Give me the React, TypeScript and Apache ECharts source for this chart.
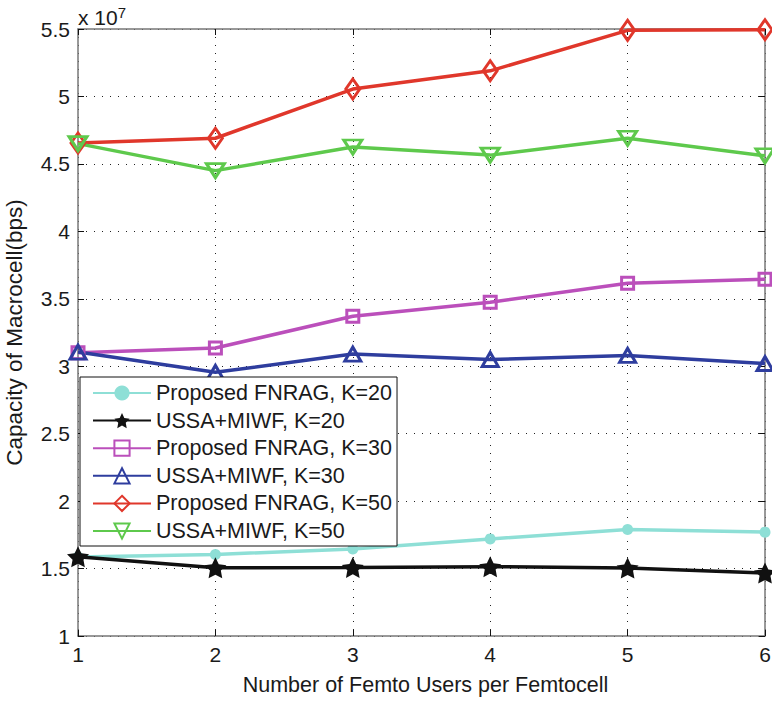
import React, { useEffect, useRef } from "react";
import * as echarts from "echarts";

const xValues = [1, 2, 3, 4, 5, 6];
const proposedK20 = [1.585, 1.605, 1.645, 1.72, 1.79, 1.77];
const ussaK20 = [1.587, 1.506, 1.508, 1.514, 1.504, 1.467];
const proposedK30 = [3.1, 3.135, 3.37, 3.475, 3.615, 3.645];
const ussaK30 = [3.105, 2.955, 3.09, 3.05, 3.08, 3.02];
const proposedK50 = [4.655, 4.69, 5.055, 5.19, 5.49, 5.495];
const ussaK50 = [4.65, 4.45, 4.625, 4.565, 4.69, 4.56];

const seriesNames = [
  "Proposed FNRAG, K=20",
  "USSA+MIWF, K=20",
  "Proposed FNRAG, K=30",
  "USSA+MIWF, K=30",
  "Proposed FNRAG, K=50",
  "USSA+MIWF, K=50",
];

const FONT = "'Liberation Sans', Arial, Helvetica, sans-serif";
const STAR =
  "path://M0,-10 L2.9,-4 L9.5,-3.1 L4.7,1.5 L5.9,8.1 L0,5 L-5.9,8.1 L-4.7,1.5 L-9.5,-3.1 L-2.9,-4 Z";

export default function App() {
  const ref = useRef<HTMLDivElement>(null);

  useEffect(() => {
    if (!ref.current) return;
    const chart = echarts.init(ref.current, undefined, { renderer: "svg" });

    const mk = (
      name: string,
      values: number[],
      color: string,
      symbol: string,
      symbolSize: any,
      hollow: boolean,
      rotate = 0
    ) => ({
      name,
      type: "line",
      data: xValues.map((x, i) => [x, values[i]]),
      symbol,
      symbolSize,
      symbolRotate: rotate,
      symbolKeepAspect: true,
      showAllSymbol: true,
      lineStyle: { color, width: 3.5 },
      itemStyle: hollow
        ? { color: "rgba(255,255,255,0)", borderColor: color, borderWidth: 3 }
        : { color, borderColor: color, borderWidth: 0 },
      emphasis: { disabled: true },
      z: 3,
    });

    const series = [
      mk(seriesNames[0], proposedK20, "#8edfd6", "circle", 11, false),
      mk(seriesNames[1], ussaK20, "#111111", STAR, 22, false),
      mk(seriesNames[2], proposedK30, "#bb4fbb", "rect", 12, true),
      mk(seriesNames[3], ussaK30, "#2e3d9e", "triangle", [16, 14], true),
      mk(seriesNames[4], proposedK50, "#e0372b", "diamond", [14, 20], true),
      mk(seriesNames[5], ussaK50, "#5ec94c", "triangle", [18, 14], true, 180),
    ];

    const dotted = { color: "#222", width: 1, type: [1, 7] as any };

    chart.setOption({
      animation: false,
      backgroundColor: "#ffffff",
      textStyle: { fontFamily: FONT },
      grid: {
        left: 78,
        right: 7,
        top: 29,
        bottom: 65,
        containLabel: false,
        outerBoundsMode: "none",
      } as any,
      xAxis: [
        {
          type: "value",
          min: 1,
          max: 6,
          interval: 1,
          position: "bottom",
          name: "Number of Femto Users per Femtocell",
          nameLocation: "middle",
          nameGap: 38,
          nameTextStyle: { fontSize: 21.5, color: "#1a1a1a", fontFamily: FONT, padding: [0, 0, 0, 8] },
          axisLine: { lineStyle: { color: "#777", width: 1.5 } },
          axisTick: { inside: true, length: 6, lineStyle: { color: "#111", width: 1 } },
          axisLabel: { fontSize: 21, color: "#1a1a1a", margin: 8, fontFamily: FONT },
          splitLine: { show: true, lineStyle: dotted },
        },
        {
          type: "value",
          min: 1,
          max: 6,
          interval: 1,
          position: "top",
          axisLine: { lineStyle: { color: "#777", width: 1.5 } },
          axisTick: { inside: true, length: 6, lineStyle: { color: "#111", width: 1 } },
          axisLabel: { show: false },
          splitLine: { show: false },
        },
      ],
      yAxis: [
        {
          type: "value",
          min: 1,
          max: 5.5,
          interval: 0.5,
          position: "left",
          name: "Capacity of Macrocell(bps)",
          nameLocation: "middle",
          nameGap: 52,
          nameTextStyle: { fontSize: 22.5, color: "#1a1a1a", fontFamily: FONT },
          axisLine: { lineStyle: { color: "#777", width: 1.5 } },
          axisTick: { inside: true, length: 6, lineStyle: { color: "#111", width: 1 } },
          axisLabel: { fontSize: 21, color: "#1a1a1a", margin: 8, fontFamily: FONT },
          splitLine: { show: true, lineStyle: dotted },
        },
        {
          type: "value",
          min: 1,
          max: 5.5,
          interval: 0.5,
          position: "right",
          axisLine: { lineStyle: { color: "#777", width: 1.5 } },
          axisTick: { inside: true, length: 6, lineStyle: { color: "#111", width: 1 } },
          axisLabel: { show: false },
          splitLine: { show: false },
        },
      ],
      legend: {
        data: seriesNames,
        orient: "vertical",
        left: 80,
        top: 377,
        padding: [5, 5, 4, 12],
        itemGap: 5.6,
        itemWidth: 58,
        itemHeight: 19,
        backgroundColor: "#ffffff",
        borderColor: "#111",
        borderWidth: 1,
        borderRadius: 0,
        textStyle: { fontSize: 21.5, color: "#1a1a1a", fontFamily: FONT, lineHeight: 21 },
        z: 10,
      },
      graphic: [
        {
          type: "text",
          left: 78,
          top: 5,
          style: {
            text: "x 10{sup|7}",
            font: `21px ${FONT}`,
            fill: "#1a1a1a",
            rich: {
              sup: { fontSize: 15, verticalAlign: "top", padding: [0, 0, 10, 0], fill: "#1a1a1a" },
            },
          },
        },
      ],
      series,
    } as any);

    return () => chart.dispose();
  }, []);

  return (
    <div
      ref={ref}
      style={{ position: "fixed", left: 0, top: 0, width: 772, height: 701 }}
    />
  );
}
